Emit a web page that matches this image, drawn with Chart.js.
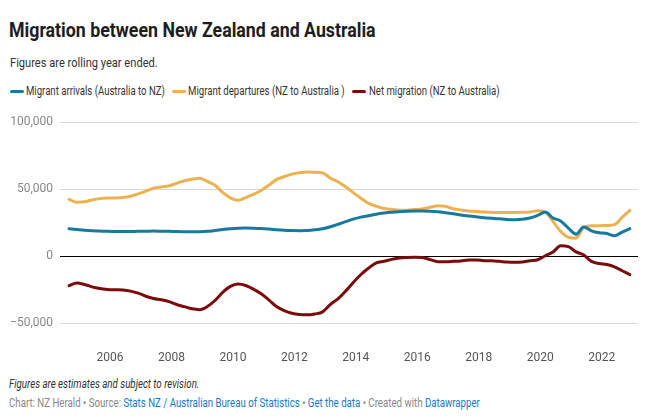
<!DOCTYPE html>
<html>
<head>
<meta charset="utf-8">
<script src="https://cdn.jsdelivr.net/npm/chart.js@4.4.1/dist/chart.umd.min.js"></script>
<style>
  html, body { margin: 0; padding: 0; background: #fff; }
  body { width: 647px; height: 420px; position: relative; overflow: hidden; font-family: Roboto, "Noto Sans", sans-serif; }
  .abs { position: absolute; white-space: nowrap; transform-origin: 0 50%; }
  #title { left: 9px; top: 19.5px; font-size: 21px; line-height: 21px; font-weight: 700; color: #1d1d1d; }
  #subtitle { left: 10px; top: 55.5px; font-size: 13.5px; line-height: 13.5px; color: #333; }
  .leg-mark { position: absolute; top: 89.5px; width: 14px; height: 3px; border-radius: 2px; }
  .leg-text { top: 85px; font-size: 12px; line-height: 12px; color: #333; }
  #chart-wrap { left: 0; top: 108px; width: 647px; height: 255px; }
  #note { left: 9px; top: 378px; font-size: 12px; line-height: 12px; font-style: italic; color: #333; }
  #source { left: 9px; top: 396.5px; font-size: 12px; line-height: 12px; color: #888; }
  #source a { color: #1a78c2; text-decoration: none; }
</style>
</head>
<body>
<div id="title" class="abs" data-w="367">Migration between New Zealand and Australia</div>
<div id="subtitle" class="abs" data-w="148">Figures are rolling year ended.</div>
<div id="legend"></div>
<div id="chart-wrap" class="abs"><canvas id="chart_out"></canvas></div>
<div id="note" class="abs" data-w="190">Figures are estimates and subject to revision.</div>
<div id="source" class="abs" data-w="471">Chart: NZ Herald • Source: <a>Stats NZ / Australian Bureau of Statistics</a> • <a>Get the data</a> • Created with <a>Datawrapper</a></div>

<script>
// rolling year ended, quarterly
const periods = [
  '2004-09', '2004-12',
  '2005-03', '2005-06', '2005-09', '2005-12',
  '2006-03', '2006-06', '2006-09', '2006-12',
  '2007-03', '2007-06', '2007-09', '2007-12',
  '2008-03', '2008-06', '2008-09', '2008-12',
  '2009-03', '2009-06', '2009-09', '2009-12',
  '2010-03', '2010-06', '2010-09', '2010-12',
  '2011-03', '2011-06', '2011-09', '2011-12',
  '2012-03', '2012-06', '2012-09', '2012-12',
  '2013-03', '2013-06', '2013-09', '2013-12',
  '2014-03', '2014-06', '2014-09', '2014-12',
  '2015-03', '2015-06', '2015-09', '2015-12',
  '2016-03', '2016-06', '2016-09', '2016-12',
  '2017-03', '2017-06', '2017-09', '2017-12',
  '2018-03', '2018-06', '2018-09', '2018-12',
  '2019-03', '2019-06', '2019-09', '2019-12',
  '2020-03', '2020-06', '2020-09', '2020-12',
  '2021-03', '2021-06', '2021-09', '2021-12',
  '2022-03', '2022-06', '2022-09', '2022-12'
];

const arrivals = [
  20600, 20000,
  19400, 19000, 18800, 18600,
  18500, 18400, 18500, 18600,
  18700, 18800, 18700, 18600,
  18400, 18300, 18200, 18300,
  18600, 19200, 19900, 20500,
  20900, 21000, 20900, 20700,
  20300, 19800, 19400, 19200,
  19100, 19200, 19700, 20500,
  22000, 23800, 25800, 27700,
  29200, 30200, 31400, 32200,
  32800, 33200, 33500, 33700,
  33800, 33600, 33200, 32500,
  31700, 30800, 30100, 29500,
  28800, 28300, 27900, 27500,
  27300, 27600, 28500, 30500,
  33000, 28500, 26300, 21000,
  16500, 21800, 19000, 17500,
  17000, 15300, 18000, 20600
];

const departures = [
  42500, 40300,
  40600, 42000, 43000, 43400,
  43500, 43800, 44800, 46500,
  48600, 50700, 51700, 52500,
  54400, 56300, 57500, 58200,
  55800, 53000, 47600, 43600,
  41800, 43800, 46200, 49100,
  52900, 57200, 59300, 61300,
  62300, 62800, 62700, 62200,
  58400, 55600, 51800, 47500,
  43300, 39500, 37300, 35600,
  35000, 34400, 34400, 34800,
  35300, 36500, 37600, 37300,
  35500, 34500, 33800, 33400,
  33000, 32800, 32600, 32600,
  32600, 32800, 33100, 33900,
  32800, 26000, 18500, 14200,
  13500, 21500, 22700, 22700,
  23000, 23600, 29000, 34300
];

const netMigration = [
  -21900, -20000,
  -21000, -22800, -24000, -24700,
  -25000, -25200, -26000, -27500,
  -29800, -31500, -32500, -33800,
  -36000, -37600, -39200, -39800,
  -37500, -33000, -27000, -22500,
  -20700, -21800, -24500, -28000,
  -32500, -37500, -40500, -42500,
  -43500, -43700, -43000, -41500,
  -36000, -31800, -26000, -19500,
  -13600, -8800, -5000, -3700,
  -2300, -1300, -900, -700,
  -900, -2500, -4000, -4000,
  -3800, -3500, -2800, -2700,
  -3300, -3400, -3800, -4300,
  -4500, -4200, -3300, -2600,
  400, 3200, 7900, 7200,
  3300, 1000, -3800, -5400,
  -6200, -7900, -10800, -13700
];

const seriesNames = ['Migrant arrivals (Australia to NZ)', 'Migrant departures (NZ to Australia )', 'Net migration (NZ to Australia)'];
const seriesColors = ['#18799f', '#ebb24f', '#7b0b0b'];
const yTicks = [-50000, 0, 50000, 100000];
const xTicks = [2006, 2008, 2010, 2012, 2014, 2016, 2018, 2020, 2022];

const _f_period_to_year = function (p) {
  let [y, m] = p.split('-').map(Number);
  return y + (m - 1) / 12;
};

const _f_points = function (vals) {
  return vals.map((v, i) => ({ x: _f_period_to_year(periods[i]), y: v }));
};

// legend (datawrapper puts items inline, narrow font)
const legendPos = [[10, 26, 139], [172, 188, 157], [352, 369, 131]];
seriesNames.forEach((name, i) => {
  let [mx, tx, tw] = legendPos[i];
  document.getElementById('legend').insertAdjacentHTML('beforeend',
    `<span class="leg-mark" style="left:${mx}px;background:${seriesColors[i]}"></span>` +
    `<div class="abs leg-text" style="left:${tx}px" data-w="${tw}">${name}</div>`);
});

// squeeze text to the condensed width of the original
document.querySelectorAll('[data-w]').forEach(el => {
  let k = parseFloat(el.dataset.w) / el.offsetWidth;
  el.style.transform = `scaleX(${k})`;
});

const _f_fmt = function (v) {
  let s = Math.abs(v).toLocaleString('en-US');
  return v < 0 ? '\u2212' + s : s;
};

let datasets = [arrivals, departures, netMigration].map((vals, i) => ({
  label: seriesNames[i],
  data: _f_points(vals),
  borderColor: seriesColors[i],
  borderWidth: 3,
  pointRadius: 0,
  cubicInterpolationMode: 'monotone',
  borderCapStyle: 'round',
  borderJoinStyle: 'round',
  fill: false
}));

let ctx = document.getElementById('chart_out').getContext('2d');
let chartjs = new Chart(ctx, {
  type: 'line',
  data: { datasets: datasets },
  options: {
    responsive: true,
    maintainAspectRatio: false,
    animation: false,
    layout: { padding: { top: 12.7, right: 9, left: 0, bottom: 0 } },
    plugins: {
      legend: { display: false },
      tooltip: { enabled: false }
    },
    scales: {
      x: {
        type: 'linear',
        min: 2004.373,
        max: 2023.182,
        grid: { display: false },
        border: { display: false },
        afterBuildTicks: (scale) => { scale.ticks = xTicks.map(v => ({ value: v })); },
        afterFit: (scale) => { scale.height = 39.7; },
        ticks: {
          padding: 19,
          maxRotation: 0,
          autoSkip: false,
          color: '#555',
          font: { family: 'Roboto', size: 12 },
          callback: (v) => String(v)
        }
      },
      y: {
        min: -50000,
        max: 100000,
        border: { display: false },
        grid: {
          drawTicks: false,
          color: (c) => (c.tick && c.tick.value === 0) ? '#000' : '#d9d9d9',
          lineWidth: 1
        },
        afterBuildTicks: (scale) => { scale.ticks = yTicks.map(v => ({ value: v })); },
        afterFit: (scale) => { scale.width = 60; },
        ticks: {
          padding: 7,
          color: '#888',
          font: { family: 'Roboto', size: 12 },
          callback: (v) => _f_fmt(v)
        }
      }
    }
  }
});
</script>
</body>
</html>
